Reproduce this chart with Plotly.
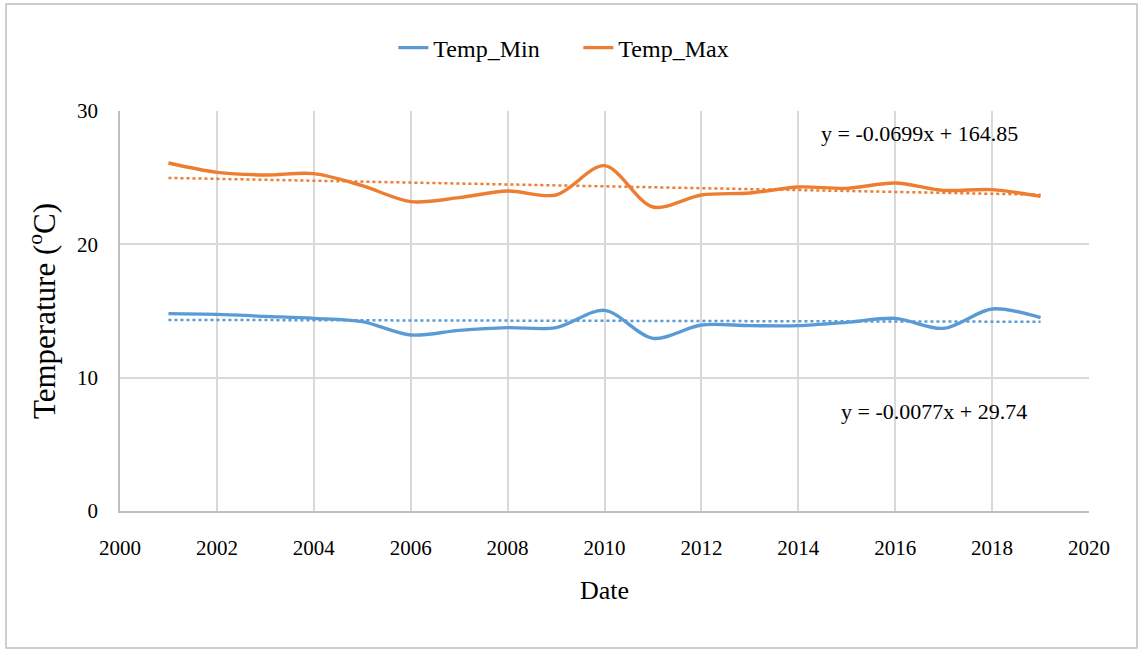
import plotly.graph_objects as go

# Annual mean temperatures
years = list(range(2001, 2020))
temp_min = [14.8, 14.75, 14.6, 14.45, 14.2, 13.2, 13.55, 13.75, 13.75, 15.05,
            12.95, 13.95, 13.9, 13.9, 14.15, 14.45, 13.7, 15.15, 14.5]
temp_max = [26.1, 25.4, 25.2, 25.3, 24.4, 23.2, 23.5, 24.0, 23.7, 25.9,
            22.8, 23.7, 23.85, 24.3, 24.2, 24.6, 24.05, 24.1, 23.6]

# Linear trend coefficients (slope, intercept)
trend_min = (-0.0077, 29.74)
trend_max = (-0.0699, 164.85)

x_ticks = list(range(2000, 2021, 2))
y_ticks = [0, 10, 20, 30]

BLUE = "#5B9BD5"
ORANGE = "#ED7D31"
FONT = "Liberation Serif, Times New Roman, serif"

fig = go.Figure()

fig.add_trace(go.Scatter(x=years, y=temp_min, name="Temp_Min", mode="lines",
                         line=dict(color=BLUE, width=3.4, shape="spline", smoothing=0.9)))
fig.add_trace(go.Scatter(x=years, y=temp_max, name="Temp_Max", mode="lines",
                         line=dict(color=ORANGE, width=3.4, shape="spline", smoothing=0.9)))

for (slope, icpt), color in ((trend_min, BLUE), (trend_max, ORANGE)):
    xs = [years[0], years[-1]]
    fig.add_trace(go.Scatter(x=xs, y=[slope * x + icpt for x in xs], mode="lines",
                             showlegend=False, hoverinfo="skip",
                             line=dict(color=color, width=2.5, dash="dot")))

fig.add_annotation(x=2016.5, y=28.3, text="y = -0.0699x + 164.85", showarrow=False,
                   font=dict(family=FONT, size=22, color="#000000"))
fig.add_annotation(x=2016.8, y=7.5, text="y = -0.0077x + 29.74", showarrow=False,
                   font=dict(family=FONT, size=22, color="#000000"))

L, R, T, B = 120, 53, 111, 141
W, H = 1142, 652
pw, ph = W - L - R, H - T - B

# Chart-area frame
fig.add_shape(type="rect", xref="paper", yref="paper",
              x0=(6 - L) / pw, x1=(1137 - L) / pw,
              y0=(H - B - 648) / ph, y1=(H - B - 4) / ph,
              line=dict(color="#BFBFBF", width=1.5), fillcolor="rgba(0,0,0,0)", layer="below")

fig.update_layout(
    width=W, height=H,
    margin=dict(l=L, r=R, t=T, b=B),
    paper_bgcolor="white", plot_bgcolor="white",
    font=dict(family=FONT, size=21, color="#000000"),
    showlegend=True,
    legend=dict(orientation="h", x=0.473, xanchor="center", y=1.0 + (111 - 48) / ph,
                yanchor="middle", font=dict(family=FONT, size=24), itemwidth=30,
                entrywidth=140, entrywidthmode="pixels"),
    xaxis=dict(range=[2000, 2020], tickvals=x_ticks, showgrid=True, gridcolor="#D9D9D9",
               gridwidth=1.5, zeroline=False, showline=True, linecolor="#BFBFBF", linewidth=1.5,
               ticks="", ticklabelstandoff=17,
               tickfont=dict(family=FONT, size=21),
               title=dict(text="Date", font=dict(family=FONT, size=26), standoff=22)),
    yaxis=dict(range=[0, 30], tickvals=y_ticks, showgrid=True, gridcolor="#D9D9D9",
               gridwidth=1.5, zeroline=False, showline=True, linecolor="#BFBFBF", linewidth=1.5,
               ticks="", ticklabelstandoff=16,
               tickfont=dict(family=FONT, size=21),
               title=dict(text="Temperature (<sup>o</sup>C)", font=dict(family=FONT, size=31),
                          standoff=12)),
)

fig.write_html("out.html")
